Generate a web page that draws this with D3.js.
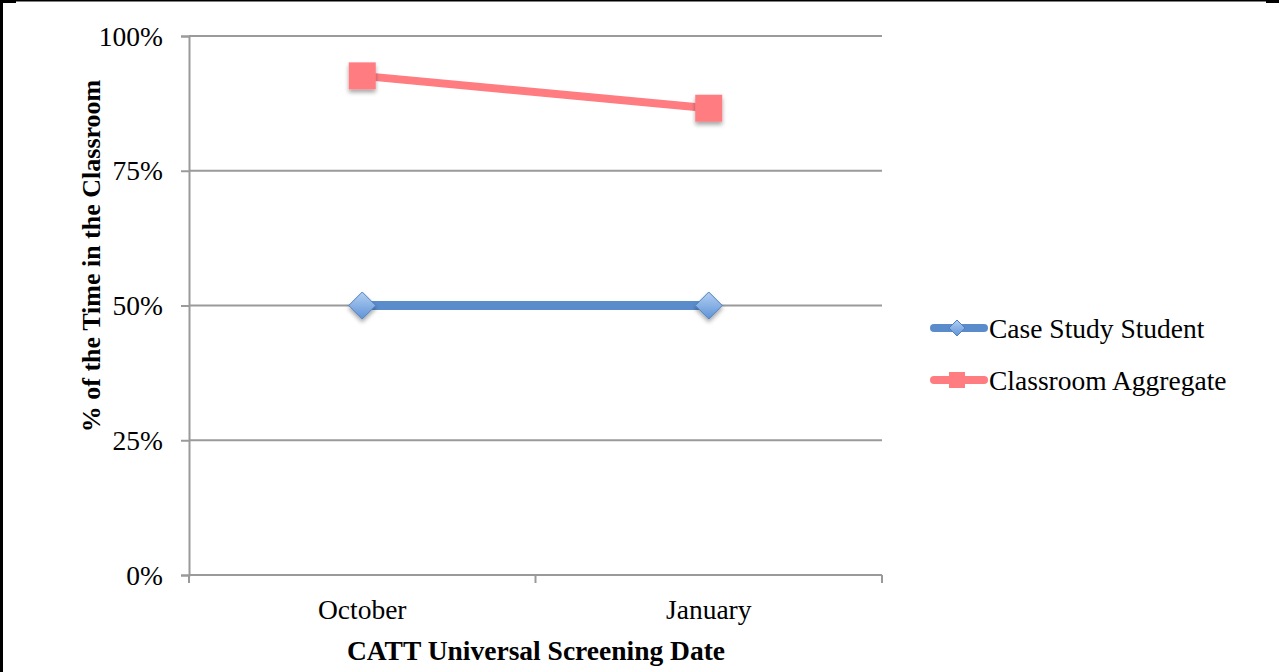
<!DOCTYPE html>
<html>
<head>
<meta charset="utf-8">
<script src="https://cdnjs.cloudflare.com/ajax/libs/d3/7.8.5/d3.min.js"></script>
<style>
  html, body { margin: 0; padding: 0; background: #fff; }
  svg { display: block; }
  text { font-family: "Liberation Serif", "Times New Roman", serif; fill: #000; }
</style>
</head>
<body>
<svg id="chart" width="1279" height="672"></svg>
<script>
// Screening dates and the share of time spent in the classroom
const categories = ["October", "January"];
const caseStudyStudent = [0.50, 0.50];
const classroomAggregate = [0.926, 0.866];
const yTicks = [0, 0.25, 0.5, 0.75, 1.0];
const seriesNames = ["Case Study Student", "Classroom Aggregate"];

const svg = d3.select("#chart");
const W = 1279, H = 672;
const plot = { left: 189, right: 882, top: 36, bottom: 575 };

const defs = svg.append("defs");
const shadow = defs.append("filter").attr("id", "shadow")
  .attr("x", "-50%").attr("y", "-50%").attr("width", "200%").attr("height", "200%");
shadow.append("feDropShadow").attr("dx", 0).attr("dy", 3).attr("stdDeviation", 2.2)
  .attr("flood-color", "#000").attr("flood-opacity", 0.35);
const grad = defs.append("linearGradient").attr("id", "diamondFill")
  .attr("x1", 0).attr("y1", 0).attr("x2", 0).attr("y2", 1);
grad.append("stop").attr("offset", "0%").attr("stop-color", "#b3d0f2");
grad.append("stop").attr("offset", "100%").attr("stop-color", "#5f93d8");

// Frame edges
svg.append("rect").attr("x", 0).attr("y", 0).attr("width", 3).attr("height", H).attr("fill", "#000");
svg.append("rect").attr("x", 0).attr("y", 0).attr("width", 1266).attr("height", 1.5).attr("fill", "#000");
svg.append("rect").attr("x", 0).attr("y", 0).attr("width", 16).attr("height", 3).attr("fill", "#000");
svg.append("rect").attr("x", 1266).attr("y", 0).attr("width", 13).attr("height", 3).attr("fill", "#000");

const x = d3.scaleBand().domain(categories).range([plot.left, plot.right]).padding(0);
const y = d3.scaleLinear().domain([0, 1]).range([plot.bottom, plot.top]);

const gridColor = "#9a9a9a";

// Horizontal gridlines
svg.append("g").selectAll("line").data(yTicks.filter(d => d > 0)).join("line")
  .attr("x1", plot.left).attr("x2", plot.right)
  .attr("y1", d => y(d)).attr("y2", d => y(d))
  .attr("stroke", gridColor).attr("stroke-width", 2);

// Y axis
const yAxis = svg.append("g").attr("transform", `translate(${plot.left},0)`)
  .call(d3.axisLeft(y).tickValues(yTicks).tickFormat(d3.format(".0%")).tickSize(8).tickPadding(18));
yAxis.select(".domain").attr("stroke", gridColor).attr("stroke-width", 2);
yAxis.selectAll(".tick line").attr("stroke", gridColor).attr("stroke-width", 2);
yAxis.selectAll(".tick text").style("font-family", "Liberation Serif, serif")
  .style("font-size", "27.5px").attr("fill", "#000").attr("dy", "0.33em");

// X axis with ticks at band edges
const xAxis = svg.append("g").attr("transform", `translate(0,${plot.bottom})`);
xAxis.append("line").attr("x1", plot.left).attr("x2", plot.right)
  .attr("stroke", gridColor).attr("stroke-width", 2);
const edges = [plot.left].concat(categories.map(c => x(c) + x.bandwidth()));
xAxis.selectAll("line.edge").data(edges).join("line").attr("class", "edge")
  .attr("x1", d => d).attr("x2", d => d).attr("y1", 0).attr("y2", 8)
  .attr("stroke", gridColor).attr("stroke-width", 2);
xAxis.selectAll("text").data(categories).join("text")
  .attr("x", d => x(d) + x.bandwidth() / 2).attr("y", 44)
  .attr("text-anchor", "middle").style("font-size", "27.5px").text(d => d);

// Axis titles
svg.append("text").attr("x", 536).attr("y", 660).attr("text-anchor", "middle")
  .style("font-size", "27.5px").style("font-weight", "bold").text("CATT Universal Screening Date");
svg.append("text").attr("transform", "translate(100,256) rotate(-90)").attr("text-anchor", "middle")
  .style("font-size", "26px").style("font-weight", "bold").text("% of the Time in the Classroom");

const cx = d => x(d) + x.bandwidth() / 2;
const line = d3.line().x(d => cx(d.c)).y(d => y(d.v));

const blue = "#5a8ccc", pink = "#ff7c80";
const student = categories.map((c, i) => ({ c, v: caseStudyStudent[i] }));
const aggregate = categories.map((c, i) => ({ c, v: classroomAggregate[i] }));

// Classroom aggregate series
svg.append("path").datum(aggregate).attr("d", line)
  .attr("fill", "none").attr("stroke", pink).attr("stroke-width", 8);
svg.append("g").selectAll("rect").data(aggregate).join("rect")
  .attr("x", d => cx(d.c) - 13.5).attr("y", d => y(d.v) - 13.5)
  .attr("width", 27).attr("height", 27).attr("fill", pink).attr("filter", "url(#shadow)");

// Case study student series
svg.append("path").datum(student).attr("d", line)
  .attr("fill", "none").attr("stroke", blue).attr("stroke-width", 9);
const diamond = (px, py, r) => `M${px},${py - r}L${px + r},${py}L${px},${py + r}L${px - r},${py}Z`;
svg.append("g").selectAll("path").data(student).join("path")
  .attr("d", d => diamond(cx(d.c), y(d.v), 13.5))
  .attr("fill", "url(#diamondFill)").attr("stroke", "#4f7fc0").attr("stroke-width", 1)
  .attr("filter", "url(#shadow)");

// Legend
const legend = svg.append("g");
const rows = [{ name: seriesNames[0], color: blue, y: 328, kind: "diamond" },
              { name: seriesNames[1], color: pink, y: 380, kind: "square" }];
rows.forEach(r => {
  legend.append("line").attr("x1", 934).attr("x2", 984).attr("y1", r.y).attr("y2", r.y)
    .attr("stroke", r.color).attr("stroke-width", 8).attr("stroke-linecap", "round");
  if (r.kind === "diamond") {
    legend.append("path").attr("d", diamond(957, r.y, 8))
      .attr("fill", "url(#diamondFill)").attr("stroke", "#4f7fc0").attr("stroke-width", 1);
  } else {
    legend.append("rect").attr("x", 949).attr("y", r.y - 8).attr("width", 16).attr("height", 16).attr("fill", r.color);
  }
  legend.append("text").attr("x", 989).attr("y", r.y).attr("dy", "0.35em")
    .style("font-size", "27.5px").text(r.name);
});
</script>
</body>
</html>
